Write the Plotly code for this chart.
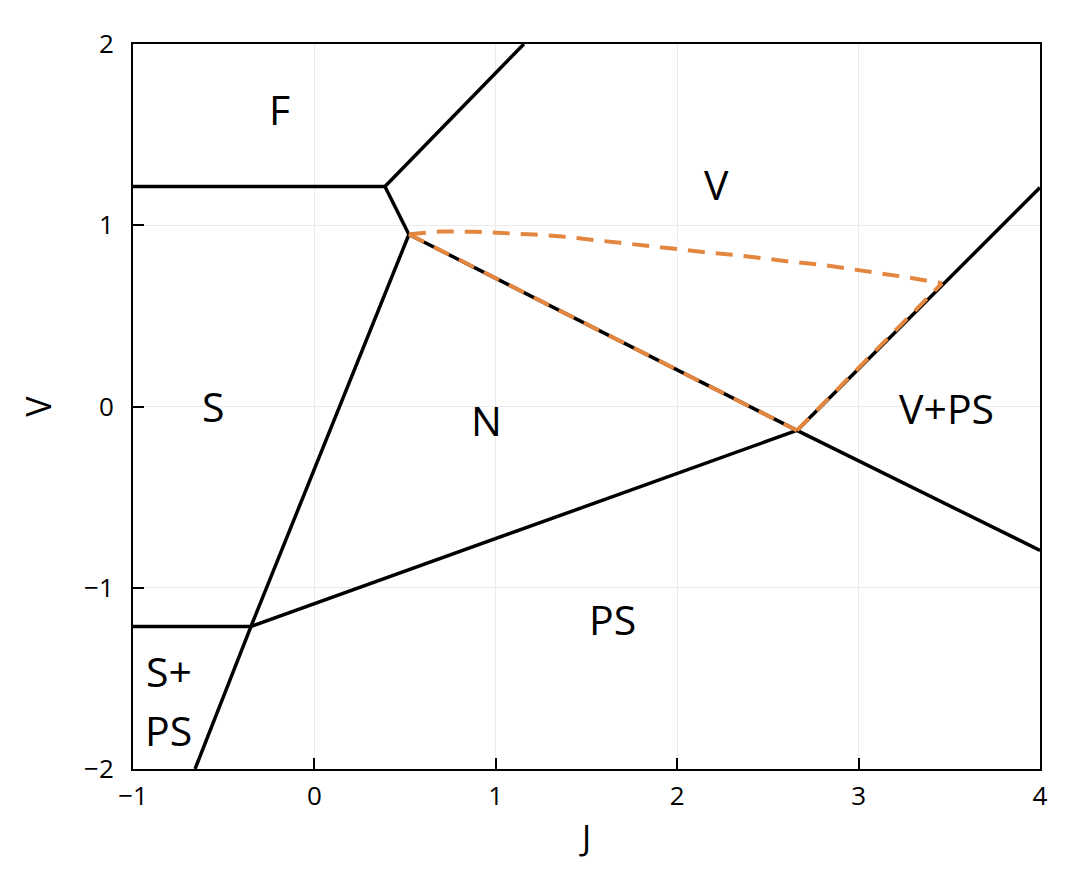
import plotly.graph_objects as go

# Phase boundaries (black solid), each a polyline
black_lines = [
    ([-1.0, 0.389], [1.214, 1.214]),
    ([0.389, 1.155], [1.214, 2.0]),
    ([0.389, 0.521], [1.214, 0.949]),
    ([0.521, -0.350, -0.658], [0.949, -1.214, -2.0]),
    ([-1.0, -0.350], [-1.214, -1.214]),
    ([-0.350, 2.660], [-1.214, -0.132]),
    ([0.521, 2.660], [0.949, -0.132]),
    ([2.660, 4.0], [-0.132, 1.208]),
    ([2.660, 4.0], [-0.132, -0.794]),
]

# Orange dashed boundaries
orange_lines = [
    ([0.521, 0.703, 0.885, 1.051, 1.211, 1.365, 1.530, 1.685, 1.845,
      1.999, 2.164, 2.313, 2.479, 2.633, 2.795, 2.947, 3.112, 3.267, 3.460],
     [0.950, 0.966, 0.964, 0.958, 0.949, 0.938, 0.918, 0.903, 0.886,
      0.868, 0.850, 0.837, 0.815, 0.798, 0.782, 0.760, 0.738, 0.713, 0.680]),
    ([0.521, 2.660], [0.950, -0.132]),
    ([2.660, 3.460], [-0.132, 0.680]),
]

# Region labels
label_text = ["F", "V", "S", "N", "V+PS", "PS", "S+", "PS"]
label_x = [-0.195, 2.214, -0.559, 0.951, 3.482, 1.644, -0.802, -0.802]
label_y = [1.639, 1.230, 0.005, -0.077, -0.006, -1.170, -1.462, -1.785]

x_ticks = [-1, 0, 1, 2, 3, 4]
y_ticks = [-2, -1, 0, 1, 2]

fig = go.Figure()
for xs, ys in black_lines:
    fig.add_trace(go.Scatter(x=xs, y=ys, mode="lines",
                             line=dict(color="black", width=3.5),
                             showlegend=False, hoverinfo="skip"))

for xs, ys in orange_lines:
    fig.add_trace(go.Scatter(x=xs, y=ys, mode="lines",
                             line=dict(color="#e3863f", width=4, dash="17px,11px"),
                             showlegend=False, hoverinfo="skip"))

for t, x, y in zip(label_text, label_x, label_y):
    fig.add_annotation(x=x, y=y, text=t, showarrow=False,
                       font=dict(family="Open Sans", size=41, color="black"),
                       xanchor="center", yanchor="middle")

axis_common = dict(
    showline=True, linecolor="black", linewidth=2, mirror=True,
    ticks="inside", ticklen=11, tickwidth=2, tickcolor="black",
    showgrid=True, gridcolor="#ebebeb", gridwidth=1,
    zeroline=False,
    tickfont=dict(family="Open Sans", size=26, color="black"),
)

fig.update_xaxes(range=[-1, 4], tickvals=x_ticks, ticklabelstandoff=3,
                 title=dict(text="J", font=dict(family="Open Sans", size=34, color="black"), standoff=14),
                 **axis_common)
fig.update_yaxes(range=[-2, 2], tickvals=y_ticks, ticklabelstandoff=12,
                 title=dict(text="V", font=dict(family="Open Sans", size=34, color="black"), standoff=22),
                 **axis_common)

fig.update_layout(
    width=1092, height=874,
    margin=dict(l=125, r=60, t=36, b=113),
    plot_bgcolor="white", paper_bgcolor="white",
)

fig.write_html("out.html")
